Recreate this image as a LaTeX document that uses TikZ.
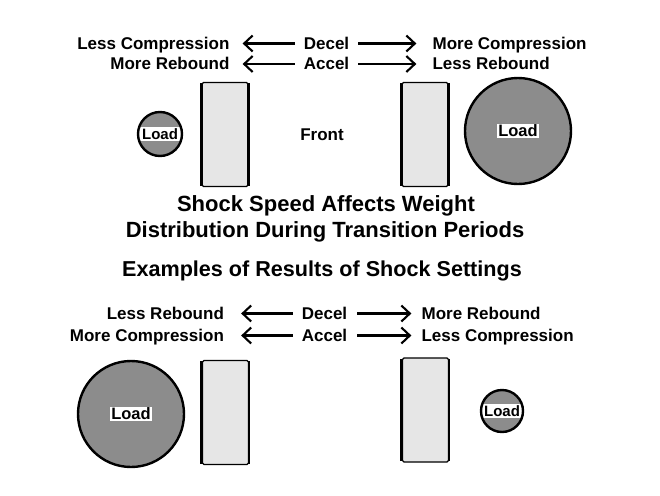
\documentclass[tikz,border=0pt]{standalone}
\usepackage{fontspec}
\setmainfont{Liberation Sans}
\usetikzlibrary{arrows.meta, positioning}
\definecolor{loadgray}{HTML}{8C8C8C}
\definecolor{shockgray}{HTML}{E6E6E6}

\begin{document}
\begin{tikzpicture}[
    x=1pt, y=-1pt,
    lbl/.style={font=\fontsize{17}{20}\selectfont\bfseries, inner sep=0pt, text height=12pt, text depth=0pt},
    ttl/.style={font=\fontsize{22}{26}\selectfont\bfseries, inner sep=0pt, text height=15.8pt, text depth=0pt},
    arr/.style={-{Straight Barb[length=8.5pt, width=16pt]}, line width=2.1pt, shorten <=9pt, shorten >=13pt},
    shock/.style={draw, fill=shockgray, line width=1.2pt, rounded corners=1.5pt, minimum width=46pt, minimum height=104pt, inner sep=0pt},
    load/.style={circle, draw, fill=loadgray, line width=2.4pt, inner sep=0pt},
    tag/.style={fill=white, inner sep=1pt, font=\fontsize{16.5}{18}\selectfont\bfseries},
    band/.style={path picture={\fill[white] ([yshift=-7pt]path picture bounding box.west) rectangle ([yshift=7pt]path picture bounding box.east);}},
]
    \fill[white] (0,0) rectangle (660,495);

    % top settings
    \node[lbl] (decA) at (326.5,43.5) {Decel};
    \node[lbl, left=74pt of decA] (lessCompA) {Less Compression};
    \node[lbl, right=83pt of decA] (moreCompA) {More Compression};
    \node[lbl] (accA) at (326.5,64) {Accel};
    \node[lbl, left=74pt of accA] (moreRebA) {More Rebound};
    \node[lbl, right=83pt of accA] (lessRebA) {Less Rebound};
    \draw[arr] (decA) -- (lessCompA);
    \draw[arr, shorten >=16pt] (decA) -- (moreCompA);
    \draw[arr] (accA) -- (moreRebA);
    \draw[arr, shorten >=16pt] (accA) -- (lessRebA);

    % top car
    \node[load, band, minimum size=44pt, font=\fontsize{15}{17}\selectfont\bfseries] (loadA) at (160,134) {Load};
    \node[shock] (shockAL) at (225,134.5) {};
    \node[lbl] (front) at (322,134) {Front};
    \node[shock] (shockAR) at (425,134.5) {};
    \node[load, minimum size=106pt] (loadB) at (518,131) {};
    \node[tag] (tagB) at (loadB) {Load};

    % titles
    \node[ttl] (ttlA) at (326,204) {Shock Speed Affects Weight};
    \node[ttl] (ttlB) at (325,230) {Distribution During Transition Periods};
    \node[ttl, font=\fontsize{21.6}{26}\selectfont\bfseries] (ttlC) at (322,269) {Examples of Results of Shock Settings};

    % bottom settings
    \node[lbl] (decB) at (324.5,313.5) {Decel};
    \node[lbl, left=77.5pt of decB] (lessRebB) {Less Rebound};
    \node[lbl, right=74pt of decB] (moreRebB) {More Rebound};
    \node[lbl] (accB) at (324.5,335.5) {Accel};
    \node[lbl, left=77.5pt of accB] (moreCompB) {More Compression};
    \node[lbl, right=74pt of accB] (lessCompB) {Less Compression};
    \draw[arr, shorten >=17pt] (decB) -- (lessRebB);
    \draw[arr, shorten <=10pt, shorten >=10pt] (decB) -- (moreRebB);
    \draw[arr, shorten >=17pt] (accB) -- (moreCompB);
    \draw[arr, shorten <=10pt, shorten >=10pt] (accB) -- (lessCompB);

    % bottom car
    \node[load, minimum size=106pt] (loadC) at (131,414) {};
    \node[tag] (tagC) at (loadC) {Load};
    \node[shock] (shockBL) at (225.5,412.5) {};
    \node[shock] (shockBR) at (425.5,410) {};
    \node[load, band, minimum size=42pt, font=\fontsize{15}{17}\selectfont\bfseries] (loadD) at (502,411) {Load};

    % heavier sides of the shocks
    \foreach \s in {shockAL, shockAR, shockBL, shockBR} {
        \draw[line width=3pt] ([yshift=-1.5pt]\s.north west) -- ([yshift=1.5pt]\s.south west);
        \draw[line width=2.4pt] ([yshift=-1.5pt]\s.north east) -- ([yshift=1.5pt]\s.south east);
    }
\end{tikzpicture}
\end{document}
